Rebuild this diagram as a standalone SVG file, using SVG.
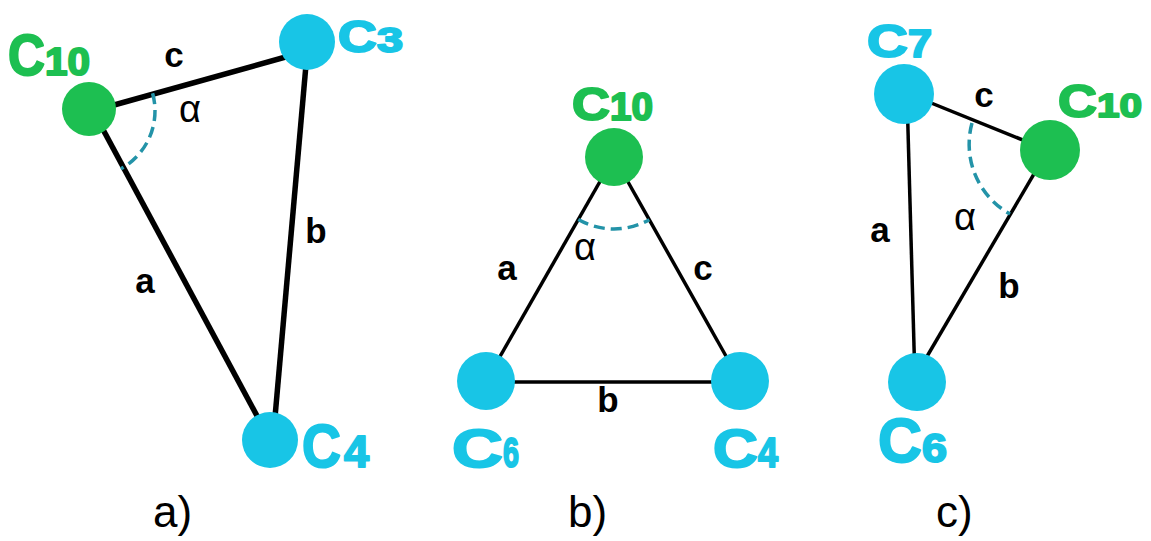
<svg xmlns="http://www.w3.org/2000/svg" width="1151" height="541" viewBox="0 0 1151 541">
<style>
.bg{fill:#ffffff}
.edge{stroke:#000;stroke-linecap:butt;fill:none}
.thick{stroke-width:5.5}
.thin{stroke-width:3.5}
.arc{fill:none;stroke:#2393a8;stroke-width:3.5;stroke-dasharray:11 6}
.g{fill:#1dbf51}
.cy{fill:#18c5e6}
.gt{fill:#1dbf51;stroke:#1dbf51;stroke-width:2;stroke-linejoin:round;font-family:"Liberation Sans",Arial,sans-serif;font-weight:bold}
.ct{fill:#18c5e6;stroke:#18c5e6;stroke-width:2;stroke-linejoin:round;font-family:"Liberation Sans",Arial,sans-serif;font-weight:bold}
.lbl{font-family:"Liberation Sans",Arial,sans-serif;font-weight:bold;font-size:35px;fill:#000;text-anchor:middle}
.alpha{font-family:"Liberation Sans",Arial,sans-serif;font-size:38px;fill:#000;text-anchor:middle}
.cap{font-family:"Liberation Sans",Arial,sans-serif;font-size:44px;fill:#000}
</style>
<rect class="bg" x="0" y="0" width="1151" height="541"/>
<g id="connectors">
  <line class="edge thick" x1="89" y1="112" x2="307" y2="51"/>
  <line class="edge thick" x1="92" y1="109" x2="270" y2="440"/>
  <line class="edge thick" x1="308" y1="42" x2="273" y2="440"/>
  <path class="arc" d="M152.6,93.3 A66,66 0 0 1 120.8,168.8"/>
  <line class="edge thin" x1="614" y1="157" x2="486" y2="381"/>
  <line class="edge thin" x1="614" y1="157" x2="740" y2="381"/>
  <line class="edge thin" x1="486" y1="382" x2="740" y2="382"/>
  <path class="arc" d="M578.3,219.5 A72,72 0 0 0 649.3,219.7"/>
  <line class="edge thin" x1="904" y1="92" x2="1050" y2="151"/>
  <line class="edge thin" x1="907" y1="94" x2="915" y2="382"/>
  <line class="edge thin" x1="1048" y1="150" x2="912" y2="382"/>
  <path class="arc" d="M972,123 A80,80 0 0 0 1010,214"/>
</g>
<g id="labels">
  <text class="lbl" x="174" y="67">c</text>
  <text class="lbl" x="145" y="293">a</text>
  <text class="lbl" x="316" y="243">b</text>
  <text class="alpha" x="190" y="122">α</text>
  <text class="lbl" x="507" y="280">a</text>
  <text class="lbl" x="703" y="280">c</text>
  <text class="lbl" x="608" y="412">b</text>
  <text class="alpha" x="585" y="260">α</text>
  <text class="lbl" x="984" y="107">c</text>
  <text class="lbl" x="880" y="242">a</text>
  <text class="lbl" x="1009" y="298">b</text>
  <text class="alpha" x="965" y="230">α</text>
  <text class="cap" x="153" y="527">a)</text>
  <text class="cap" x="568" y="527">b)</text>
  <text class="cap" x="936" y="527">c)</text>
</g>
<g id="a-C10">
  <circle class="g" cx="89" cy="109" r="27"/>
  <text class="gt" y="75"><tspan x="8" font-size="57" textLength="37" lengthAdjust="spacingAndGlyphs">C</tspan><tspan x="45" font-size="38" textLength="45" lengthAdjust="spacingAndGlyphs">10</tspan></text>
</g>
<g id="a-C3">
  <circle class="cy" cx="307" cy="42" r="28"/>
  <text class="ct" y="52"><tspan x="338" font-size="45" textLength="39" lengthAdjust="spacingAndGlyphs">C</tspan><tspan x="377" font-size="35" textLength="26" lengthAdjust="spacingAndGlyphs">3</tspan></text>
</g>
<g id="a-C4">
  <circle class="cy" cx="270" cy="440" r="28"/>
  <text class="ct" y="467"><tspan x="302" font-size="61" textLength="39" lengthAdjust="spacingAndGlyphs">C</tspan><tspan x="344" font-size="45" textLength="25" lengthAdjust="spacingAndGlyphs">4</tspan></text>
</g>
<g id="b-C10">
  <circle class="g" cx="614" cy="157" r="29"/>
  <text class="gt" y="120"><tspan x="572" font-size="47" textLength="38" lengthAdjust="spacingAndGlyphs">C</tspan><tspan x="610" font-size="38" textLength="43" lengthAdjust="spacingAndGlyphs">10</tspan></text>
</g>
<g id="b-C6">
  <circle class="cy" cx="486" cy="381" r="29"/>
  <text class="ct" y="467"><tspan x="452" font-size="53" textLength="51" lengthAdjust="spacingAndGlyphs">C</tspan><tspan x="503" font-size="42" textLength="16" lengthAdjust="spacingAndGlyphs">6</tspan></text>
</g>
<g id="b-C4">
  <circle class="cy" cx="740" cy="381" r="29"/>
  <text class="ct" y="467"><tspan x="713" font-size="53" textLength="45" lengthAdjust="spacingAndGlyphs">C</tspan><tspan x="758" font-size="42" textLength="20" lengthAdjust="spacingAndGlyphs">4</tspan></text>
</g>
<g id="c-C7">
  <circle class="cy" cx="904" cy="94" r="30"/>
  <text class="ct" y="57"><tspan x="867" font-size="47" textLength="41" lengthAdjust="spacingAndGlyphs">C</tspan><tspan x="908" font-size="38" textLength="24" lengthAdjust="spacingAndGlyphs">7</tspan></text>
</g>
<g id="c-C10">
  <circle class="g" cx="1050" cy="150" r="30"/>
  <text class="gt" y="117"><tspan x="1058" font-size="46" textLength="39" lengthAdjust="spacingAndGlyphs">C</tspan><tspan x="1097" font-size="34" textLength="45" lengthAdjust="spacingAndGlyphs">10</tspan></text>
</g>
<g id="c-C6">
  <circle class="cy" cx="917" cy="382" r="29"/>
  <text class="ct" y="462"><tspan x="878" font-size="63" textLength="44" lengthAdjust="spacingAndGlyphs">C</tspan><tspan x="922" font-size="40" textLength="25" lengthAdjust="spacingAndGlyphs">6</tspan></text>
</g>
</svg>
